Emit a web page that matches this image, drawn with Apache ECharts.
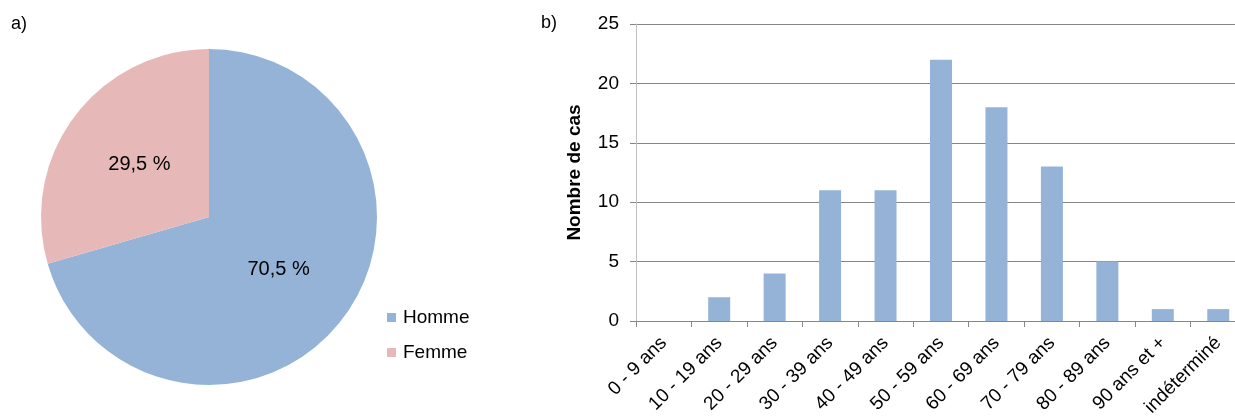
<!DOCTYPE html>
<html><head><meta charset="utf-8">
<script src="https://cdn.jsdelivr.net/npm/echarts@6/dist/echarts.min.js"></script>
<style>html,body{margin:0;padding:0;background:#fff;}#c{width:1235px;height:417px;}</style>
</head><body><div id="c"></div>
<script>
const sexCategories = ['Homme', 'Femme'];
const sexValues = [70.5, 29.5];
const sexColors = ['#95B3D7', '#E6B9B8'];
const ageCategories = ['0 - 9 ans','10 - 19 ans','20 - 29 ans','30 - 39 ans','40 - 49 ans','50 - 59 ans','60 - 69 ans','70 - 79 ans','80 - 89 ans','90 ans et +','indéterminé'];
const ageValues = [0, 2, 4, 11, 11, 22, 18, 13, 5, 1, 1];
const yTicks = [0, 5, 10, 15, 20, 25];

const chart = echarts.init(document.getElementById('c'), null, {renderer: 'canvas'});
const font = 'Liberation Sans, Arial, sans-serif';
chart.setOption({
  animation: false,
  textStyle: {fontFamily: font},
  graphic: [
    {type: 'text', left: 11, top: 15, style: {text: 'a)', font: '18px ' + font, fill: '#000'}},
    {type: 'text', left: 541, top: 14, style: {text: 'b)', font: '18px ' + font, fill: '#000'}}
  ],
  legend: {
    orient: 'vertical', left: 382, top: 303, itemWidth: 9, itemHeight: 9, itemGap: 16,
    icon: 'rect', itemStyle: {borderWidth: 0},
    textStyle: {fontSize: 19, lineHeight: 19, color: '#000', fontFamily: font, padding: [0, 0, 0, 2]},
    data: sexCategories
  },
  grid: {left: 636, top: 24, width: 610, height: 297, containLabel: false, outerBoundsMode: 'none'},
  xAxis: {
    type: 'category', data: ageCategories,
    axisLine: {lineStyle: {color: '#868686', width: 1}},
    axisTick: {show: true, alignWithLabel: false, length: 6, lineStyle: {color: '#868686'}},
    axisLabel: {rotate: 45, fontSize: 19, color: '#000', margin: 19, interval: 0, fontFamily: font}
  },
  yAxis: {
    type: 'value', min: 0, max: 25, interval: 5,
    name: 'Nombre de cas', nameLocation: 'middle', nameGap: 52,
    nameTextStyle: {fontSize: 19, fontWeight: 'bold', color: '#000', fontFamily: font},
    axisLine: {show: true, lineStyle: {color: '#BEBEBE'}},
    axisTick: {show: true, length: 6, lineStyle: {color: '#868686'}},
    axisLabel: {fontSize: 19, color: '#000', margin: 17, fontFamily: font,
      formatter: v => yTicks.includes(v) ? String(v) : ''},
    splitLine: {lineStyle: {color: '#868686', width: 1}}
  },
  series: [
    {
      type: 'pie', center: [209, 217], radius: 168, startAngle: 90, clockwise: true,
      data: sexCategories.map((n, i) => ({name: n, value: sexValues[i], itemStyle: {color: sexColors[i]}})),
      label: {position: 'inside', fontSize: 20, color: '#000', fontFamily: font,
        formatter: p => String(p.value).replace('.', ',') + ' %'},
      labelLine: {show: false},
      itemStyle: {borderWidth: 0},
      emphasis: {disabled: true}
    },
    {
      type: 'bar', data: ageValues, barWidth: 22,
      itemStyle: {color: '#95B3D7'},
      emphasis: {disabled: true}
    }
  ]
});
</script></body></html>
